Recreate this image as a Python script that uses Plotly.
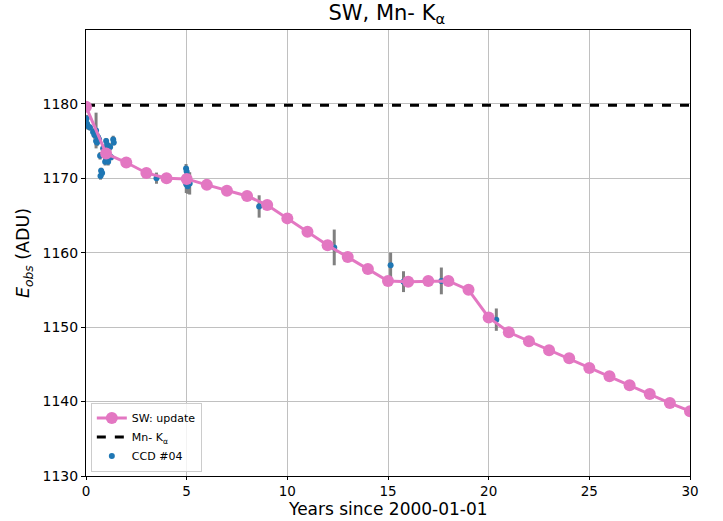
import plotly.graph_objects as go

# SW update model (pink)
sw_years = list(range(0, 31))
sw_energy = [1179.6, 1173.3, 1172.1, 1170.7, 1170.0, 1169.9, 1169.1, 1168.3, 1167.6, 1166.4,
             1164.6, 1162.8, 1161.0, 1159.4, 1157.8, 1156.2, 1156.1, 1156.2, 1156.2, 1155.0,
             1151.3, 1149.3, 1148.1, 1146.9, 1145.8, 1144.5, 1143.4, 1142.2, 1141.0, 1139.8,
             1138.7]

# Mn K-alpha reference line
mn_ka = 1179.8

# CCD #04 measurements
ccd_t = [0.03, 0.05, 0.10, 0.20, 0.35, 0.42, 0.50, 0.50, 0.55, 0.60, 0.65, 0.70, 0.72, 0.75,
         0.80, 0.85, 0.90, 0.95, 1.00, 1.00, 1.05, 1.10, 1.15, 1.20, 1.25, 1.35, 1.38,
         3.50, 4.97, 5.00, 4.98, 5.05, 5.15, 8.60, 12.33, 15.13, 15.77, 17.65, 20.38]
ccd_e = [1178.0, 1177.3, 1177.0, 1176.8, 1176.2, 1175.8, 1176.4, 1175.0, 1174.8, 1175.5,
         1175.2, 1173.0, 1170.3, 1171.0, 1170.7, 1174.0, 1173.4, 1172.2, 1172.6, 1175.0,
         1174.5, 1172.2, 1173.0, 1174.2, 1172.8, 1175.2, 1174.8,
         1170.0, 1171.3, 1170.9, 1169.2, 1168.9, 1169.3, 1166.2, 1160.7, 1158.3, 1156.1,
         1156.2, 1151.0]
ccd_err = [0.5, 0.6, 0.5, 0.4, 0.5, 0.5, 2.4, 0.6, 0.5, 0.5, 0.4, 0.5, 0.5, 0.4, 0.5, 0.5,
           0.6, 0.5, 0.5, 0.4, 0.5, 0.5, 0.4, 0.5, 0.4, 0.5, 0.4,
           0.75, 0.6, 0.5, 1.2, 1.0, 1.5, 1.5, 2.4, 1.7, 1.4, 1.8, 1.5]

x_ticks = [0, 5, 10, 15, 20, 25, 30]
y_ticks = [1130, 1140, 1150, 1160, 1170, 1180]

FONT = "DejaVu Sans"

fig = go.Figure()

fig.add_trace(go.Scatter(
    x=ccd_t, y=ccd_e, mode="markers", name="CCD #04",
    marker=dict(color="#1f77b4", size=6),
    error_y=dict(type="data", array=ccd_err, visible=True, color="#808080",
                 thickness=3, width=0),
))

fig.add_trace(go.Scatter(
    x=[0, 30], y=[mn_ka, mn_ka], mode="lines", name="Mn- K<sub>α</sub>",
    line=dict(color="black", width=3, dash="dash"),
))

fig.add_trace(go.Scatter(
    x=sw_years, y=sw_energy, mode="lines+markers", name="SW: update",
    line=dict(color="#e377c2", width=3),
    marker=dict(color="#e377c2", size=12),
))

fig.update_layout(
    width=723, height=521,
    margin=dict(l=86, r=33, t=30, b=45),
    paper_bgcolor="white", plot_bgcolor="white",
    font=dict(family=FONT, color="black", size=13),
    title=dict(text="SW, Mn- K<sub>α</sub>", x=0.535, xanchor="center", y=0.99, yanchor="top",
               font=dict(size=21, family=FONT)),
    legend=dict(x=0.008, y=0.01, xanchor="left", yanchor="bottom",
                bordercolor="#cccccc", borderwidth=1, bgcolor="rgba(255,255,255,0.8)",
                font=dict(size=11, family=FONT), traceorder="reversed",
                itemwidth=30),
    showlegend=True,
    annotations=[dict(text="Years since 2000-01-01", xref="paper", yref="paper",
                      x=0.5, y=-0.098, xanchor="center", yanchor="bottom", showarrow=False,
                      borderpad=0, font=dict(size=17, family=FONT))],
)

fig.update_xaxes(
    range=[0, 30], tickvals=x_ticks, ticktext=[str(v) for v in x_ticks],
    showgrid=True, gridcolor="#c0c0c0", gridwidth=1,
    showline=True, linecolor="black", linewidth=1, mirror=True,
    ticks="outside", ticklen=3, tickcolor="black", zeroline=False,
    tickfont=dict(size=13.5), automargin=False,
)
fig.update_yaxes(
    range=[1130, 1189.9], tickvals=y_ticks, ticktext=[str(v) for v in y_ticks],
    showgrid=True, gridcolor="#c0c0c0", gridwidth=1,
    showline=True, linecolor="black", linewidth=1, mirror=True,
    ticks="outside", ticklen=4, tickcolor="black", zeroline=False,
    tickfont=dict(size=14), automargin=False,
    title=dict(text="<i>E<sub>obs</sub></i> (ADU)", font=dict(size=17.5), standoff=8),
)

fig.write_html("out.html")
